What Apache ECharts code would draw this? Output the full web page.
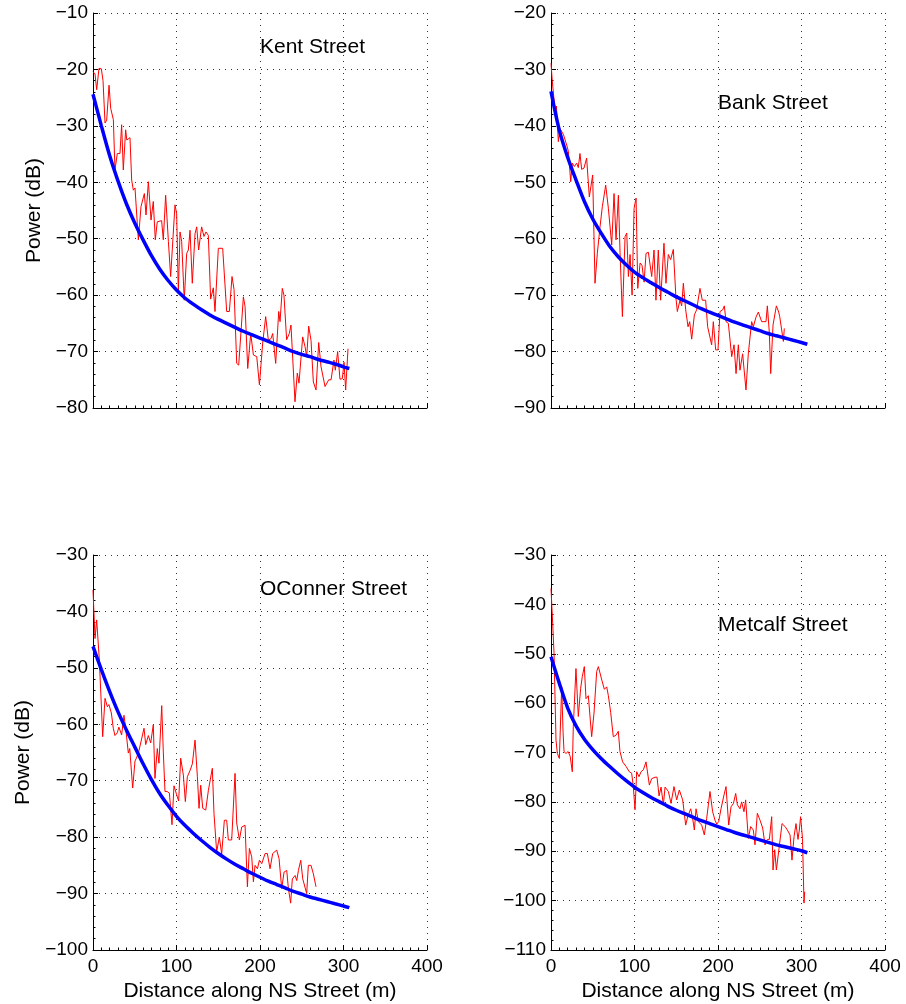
<!DOCTYPE html>
<html>
<head>
<meta charset="utf-8">
<title>Received power along NS streets</title>
<script src="https://cdn.jsdelivr.net/npm/echarts@6/dist/echarts.min.js"></script>
<style>
  html, body { margin: 0; padding: 0; background: #fff; }
  #chart { width: 906px; height: 1004px; }
</style>
</head>
<body>
<div id="chart"></div>
<script>
// Measured received power (dB) versus distance along each NS street (m)
const kentDist = [0, 2.4, 4.4, 7.2, 10, 12, 14.4, 16.4, 19.2, 21.2, 24.4, 26.3, 29.1, 32.3, 34.3, 36.3, 39.1, 40.5, 42.3, 44.3, 46.3, 48.3, 50.3, 54.3, 57.5, 61.5, 63.5, 66.3, 69.5, 72.2, 74.6, 77, 82.2, 84.2, 87, 90.3, 93, 98.2, 100.2, 102.2, 104.2, 106.2, 109.3, 112.2, 114.2, 116.2, 118.9, 122.2, 124.2, 126.5, 130.1, 132.9, 135.3, 138.1, 140.9, 144.1, 146.1, 150.1, 155.3, 160.1, 163.3, 166.5, 168.9, 172.1, 174.5, 180.1, 182.1, 185.3, 188.9, 192.1, 196.1, 199.3, 203.2, 206.8, 210, 213.2, 215.2, 218.8, 222.4, 224, 226.7, 228.7, 231.9, 235.1, 237.1, 241.9, 244.7, 246.7, 251.1, 253.9, 255.9, 258.3, 261.1, 263.9, 267.1, 270.3, 273.1, 277.9, 282.3, 285.1, 288.6, 290.2, 293, 295.8, 298.6, 300.6, 302.6, 305.4];
const kentPower = [-20.4, -20.8, -23.6, -19.8, -19.9, -22, -29.5, -29, -22.8, -26.9, -28.9, -37.8, -34.9, -34.9, -29.8, -37.8, -30.7, -32.5, -32.4, -32.1, -39.6, -41.4, -41, -50.2, -44.3, -42, -45.8, -39.9, -46.7, -43.4, -50.2, -47, -46.8, -50.2, -42.3, -50.5, -56.7, -44, -45.6, -59.7, -48.8, -50.5, -60.9, -52.6, -52, -48.5, -57.9, -49.1, -47.9, -52, -47.9, -49.6, -48.8, -49.4, -60.7, -58.7, -62.9, -51.7, -51.7, -62.9, -62.9, -56.7, -59, -72.1, -72.4, -60.3, -62, -73, -66.8, -70.6, -70.9, -75.9, -68.5, -63.8, -68, -67.7, -66.8, -72.1, -62.9, -64.7, -58.8, -60, -67.9, -66.8, -65.3, -78.9, -73.8, -75.6, -67.4, -69.1, -70.9, -65.5, -68, -75.4, -76.8, -68.4, -72.7, -76.2, -75, -75, -71.5, -73.3, -70, -74.9, -74.8, -71.9, -76.8, -69.5];

const bankDist = [0, 1.5, 4.8, 6.5, 8.8, 10.8, 14.8, 18.8, 20.8, 23.6, 25.5, 28, 30.7, 32.7, 34.7, 36.7, 39.5, 42.7, 45.9, 49.9, 52.7, 55.5, 58.7, 61.5, 65.5, 68.7, 71, 72.7, 75.5, 77.9, 80.7, 82.7, 85.5, 88.7, 90.7, 92.7, 94.7, 97.1, 99.5, 101.9, 103.9, 106.7, 109, 111.5, 113.8, 116.6, 120.6, 123.4, 125.7, 128.5, 131.3, 135.3, 137.7, 140.5, 143.3, 146.5, 149.7, 151.3, 154.5, 156.5, 158.5, 161.3, 164.1, 166.1, 168.5, 171.7, 174.4, 178.4, 181.2, 185.2, 187.6, 192.4, 194.4, 197.2, 200, 202.4, 205.6, 207.6, 209.6, 212.4, 216.4, 219.2, 221.6, 224.4, 226.3, 229.5, 231.1, 233.5, 236.3, 240.3, 242.3, 245.5, 248.3, 250.3, 252.3, 257.5, 259.1, 261.5, 263.1, 265.9, 269.9, 272.7, 273.9, 278.3, 279.4];
const bankPower = [-28.9, -32, -37.2, -36.5, -42.8, -40.5, -41.5, -43.4, -44.5, -49.9, -46.6, -47.2, -46.6, -47.4, -44.9, -47.7, -47.5, -45.7, -52.6, -48.7, -67.9, -62.6, -57.9, -54.3, -50.5, -54.6, -54.9, -61.1, -52, -60.2, -52.3, -62.5, -73.8, -59.6, -59, -66.7, -62.8, -70, -54.6, -52.8, -68.8, -64.3, -64.7, -67.7, -62.6, -62.4, -66.7, -62, -70.9, -62, -70.9, -60.8, -67.9, -62.8, -63.7, -61.9, -70.6, -72.9, -70.9, -71.9, -67.9, -72.6, -75.6, -74.7, -77.8, -73.5, -72.6, -68.8, -70.9, -70.9, -75.6, -78.8, -74.7, -79.7, -79.7, -72.9, -72.6, -71.9, -74.7, -75, -80.9, -78.8, -83.9, -78.8, -83.3, -80.4, -80.6, -86.8, -80.4, -74.7, -75.6, -73.9, -73, -73, -74.7, -74.7, -71.9, -76.7, -83.9, -75.3, -71.9, -73, -73.8, -78.2, -75.9];

const oconnerDist = [0, 2.4, 4.4, 5.5, 7.6, 9.5, 11.6, 14.4, 17.2, 19, 22, 24.3, 26.3, 29.1, 31, 34.3, 37.1, 39, 42.3, 44, 47.5, 50.3, 52, 54.7, 57, 61.1, 63.1, 66.3, 69.1, 72.2, 74.2, 77, 79, 82.3, 84.2, 86.2, 88.7, 91.5, 94.6, 97, 100.2, 102.6, 105, 108.2, 110.6, 113, 116.2, 119, 122.2, 125, 127, 129, 131.4, 135, 138.2, 142.9, 144.9, 148.1, 151.3, 154.1, 157.3, 160.1, 162.1, 166.1, 170.1, 172.1, 175.3, 178.1, 182.1, 184.9, 187.3, 190.1, 192.1, 194.1, 196.9, 199.3, 202.1, 206.1, 208.8, 212, 215.2, 220, 222.8, 226, 228.8, 232, 234, 236.7, 238.7, 242, 244, 246, 248.8, 251.2, 253, 255.9, 257.9, 261.1, 263.9, 267.1];
const oconnerPower = [-36.2, -44.8, -41.5, -41.8, -48.6, -55, -62.2, -55.4, -56.9, -56.5, -58, -60.7, -62, -61.5, -60.5, -61.9, -58.4, -60.5, -65.1, -64.3, -71.3, -66.5, -66, -64.9, -65.2, -60.7, -63.6, -62, -63.3, -60.1, -69.6, -64.3, -66.9, -56.7, -64.9, -71.9, -71.9, -72.2, -77.8, -70.9, -72.5, -73.6, -66, -69, -73.7, -69.3, -68.2, -67, -62.8, -69.3, -74.9, -70.8, -74.9, -75.2, -71.7, -67.8, -75.8, -82.6, -80, -83, -77, -77, -80.5, -80.5, -68.7, -77.5, -80.5, -78.2, -77.9, -88.8, -82, -83.5, -87.9, -85, -85.6, -84.1, -84.7, -82.9, -82.9, -85.6, -82.9, -82.3, -83.8, -89.1, -86.2, -85.9, -89.1, -91.7, -87.4, -86.8, -87.7, -85.9, -84.1, -87.4, -87.2, -90, -85, -85, -86.5, -88.8];

const metcalfDist = [0, 2, 3.6, 6, 7.6, 10, 12.8, 14.5, 15.6, 18, 20.5, 23, 25.5, 26.7, 29.9, 32.7, 35.5, 37.5, 39.9, 41.9, 44.7, 48.7, 51.5, 54.7, 56.7, 58.7, 61.1, 63.9, 66.7, 68.7, 71.5, 74.6, 77.8, 80.6, 82.6, 85.8, 89.8, 93.8, 96.6, 98.6, 100.6, 102.6, 105.4, 107.8, 110.6, 113.8, 117.8, 120.6, 124.6, 127, 129.4, 131.8, 134.6, 136.6, 140.6, 143.7, 147.3, 150.5, 153.7, 155.5, 157.7, 161.3, 163.7, 167.3, 169.7, 171.7, 173.7, 176.5, 180.5, 183.6, 186.4, 190.4, 193.6, 196.4, 198.5, 200.8, 203.6, 207.2, 209.6, 212.8, 215.6, 218.5, 221.2, 223.2, 226.3, 228.3, 231.1, 233.1, 236.3, 239.1, 242.3, 244.3, 247.1, 250.3, 253.5, 256.3, 259.1, 261.5, 264.3, 265.9, 267.9, 269.9, 273.1, 276.7, 280.3, 283.1, 286.3, 288.6, 291.1, 293.4, 295.8, 297.4, 298.9, 301.2, 303, 303.8];
const metcalfPower = [-36.8, -43.8, -49.8, -67.5, -70.2, -71.2, -56.7, -66, -69.8, -70.2, -69.8, -70.8, -73.9, -64.8, -53, -62.7, -57, -54.6, -52.6, -59.1, -58.5, -66.8, -62, -53.6, -52.6, -53.9, -55.5, -57.2, -56.7, -58.5, -61.9, -66.8, -66.5, -65.7, -69.8, -71.9, -72.8, -73.9, -74.2, -76.9, -81.6, -73.9, -74.9, -73.9, -73.5, -71.9, -76.6, -75.3, -75, -75, -78.8, -77, -80.6, -77, -77.9, -80.3, -76.9, -79.6, -77.6, -77.6, -79.6, -84.7, -83, -81.4, -83.4, -85.7, -81.4, -84, -84.7, -86.7, -83.4, -77.9, -82, -83.7, -84.5, -84, -81.4, -78.6, -76.9, -84.7, -81, -80.3, -78.3, -80.6, -81.4, -80, -82, -79.6, -87.4, -85, -85.7, -88.7, -82.3, -83.7, -85.3, -88.7, -87.6, -87.6, -83, -93.8, -89.7, -93.8, -89.4, -84.4, -85, -85.7, -86.7, -91.8, -87, -84.4, -87.6, -85.7, -83, -87.4, -100.5, -98.2];

// Fitted path-loss curves, sampled along the street
const fitDist = [0, 10, 20, 30, 40, 50, 60, 70, 80, 90, 100, 110, 120, 130, 140, 150, 160, 170, 180, 190, 200, 210, 220, 230, 240, 250, 260, 270, 280, 290, 300, 307];
const kentFit = [-24.4, -30.0, -35.3, -39.8, -43.8, -47.2, -50.2, -53.0, -55.4, -57.4, -59.1, -60.5, -61.6, -62.6, -63.5, -64.3, -65.0, -65.7, -66.4, -67.0, -67.6, -68.2, -68.8, -69.4, -70.0, -70.5, -70.9, -71.4, -71.8, -72.2, -72.7, -73.0];
const bankFit = [-33.9, -40.8, -45.6, -49.6, -53.4, -56.5, -59.0, -61.3, -63.1, -64.6, -65.9, -66.9, -67.8, -68.7, -69.5, -70.3, -71.0, -71.7, -72.4, -73.0, -73.6, -74.2, -74.8, -75.3, -75.8, -76.3, -76.8, -77.2, -77.6, -78.0, -78.4, -78.7];
const oconnerFit = [-46.2, -50.3, -54.2, -57.8, -61.0, -64.0, -67.0, -69.8, -72.3, -74.4, -76.3, -77.9, -79.3, -80.6, -81.8, -82.9, -83.9, -84.8, -85.6, -86.4, -87.1, -87.8, -88.4, -89.0, -89.6, -90.1, -90.6, -91.0, -91.4, -91.8, -92.2, -92.5];
const metcalfFit = [-50.6, -56.0, -61.0, -64.6, -67.3, -69.4, -71.2, -72.8, -74.3, -75.7, -77.0, -78.1, -79.1, -80.0, -80.9, -81.7, -82.4, -83.1, -83.8, -84.4, -85.0, -85.6, -86.2, -86.7, -87.2, -87.7, -88.2, -88.7, -89.1, -89.5, -89.9, -90.3];

const streetNames = ['Kent Street', 'Bank Street', 'OConner Street', 'Metcalf Street'];
const yRanges = [[-80, -10], [-90, -20], [-100, -30], [-110, -30]];
const xRange = [0, 400];
const xTitle = 'Distance along NS Street (m)';
const yTitle = 'Power (dB)';

const measured = [[kentDist, kentPower], [bankDist, bankPower], [oconnerDist, oconnerPower], [metcalfDist, metcalfPower]];
const fitted = [kentFit, bankFit, oconnerFit, metcalfFit];

const FONT = "'Liberation Sans', Arial, Helvetica, sans-serif";
const minus = v => String(v).replace('-', '\u2212');

// panel boxes in pixels: [left, top]
const panelPos = [[93, 13], [551, 13], [93, 555], [551, 555]];
const panelW = 334, panelH = 395;
// street caption anchors (pixels, left edge / vertical middle)
const captionPos = [[260, 47], [718, 103], [260, 589], [718, 625]];
const yNameGap = [48, 0, 59, 0];

const dotted = { color: '#333', width: 1, type: [1, 5] };

const grids = [], xAxes = [], yAxes = [], series = [], graphics = [];
for (let i = 0; i < 4; i++) {
  const bottomRow = i >= 2, leftCol = i % 2 === 0;
  grids.push({ left: panelPos[i][0], top: panelPos[i][1], width: panelW, height: panelH, containLabel: false });
  xAxes.push({
    type: 'value', gridIndex: i, min: xRange[0], max: xRange[1], interval: 100,
    axisLine: { show: true, onZero: false, lineStyle: { color: '#000', width: 1 } },
    axisTick: { show: true, inside: true, length: 5, lineStyle: { color: '#000' } },
    minorTick: { show: true, splitNumber: 10, length: 2.5, lineStyle: { color: '#000' } },
    splitLine: { show: true, lineStyle: dotted },
    axisLabel: { show: bottomRow, color: '#000', fontSize: 19, fontFamily: FONT, margin: 7 },
    name: bottomRow ? xTitle : '', nameLocation: 'middle', nameGap: 31,
    nameTextStyle: { color: '#000', fontSize: 21, fontFamily: FONT }
  });
  yAxes.push({
    type: 'value', gridIndex: i, min: yRanges[i][0], max: yRanges[i][1], interval: 10,
    axisLine: { show: true, onZero: false, lineStyle: { color: '#000', width: 1 } },
    axisTick: { show: true, inside: true, length: 5, lineStyle: { color: '#000' } },
    minorTick: { show: true, splitNumber: 5, length: 2.5, lineStyle: { color: '#000' } },
    splitLine: { show: true, lineStyle: dotted },
    axisLabel: { color: '#000', fontSize: 19, fontFamily: FONT, margin: 5, formatter: minus },
    name: leftCol ? yTitle : '', nameLocation: 'middle', nameGap: yNameGap[i], nameRotate: 90,
    nameTextStyle: { color: '#000', fontSize: 21, fontFamily: FONT }
  });
  const [dist, pow] = measured[i];
  series.push({
    type: 'line', xAxisIndex: i, yAxisIndex: i, showSymbol: false, animation: false,
    data: dist.map((d, k) => [d, pow[k]]),
    lineStyle: { color: '#ff0000', width: 1 }, z: 3
  });
  series.push({
    type: 'line', xAxisIndex: i, yAxisIndex: i, showSymbol: false, animation: false, smooth: 0.3,
    data: fitDist.map((d, k) => [d, fitted[i][k]]),
    lineStyle: { color: '#0000ff', width: 3.5 }, z: 4
  });
  graphics.push({
    type: 'text', x: captionPos[i][0], y: captionPos[i][1], z: 10,
    style: { text: streetNames[i], font: '21px ' + FONT, fill: '#000', align: 'left', verticalAlign: 'middle' }
  });
}

const chart = echarts.init(document.getElementById('chart'), null, { renderer: 'canvas' });
chart.setOption({
  backgroundColor: '#fff',
  animation: false,
  grid: grids, xAxis: xAxes, yAxis: yAxes, series: series, graphic: graphics
});
</script>
</body>
</html>
